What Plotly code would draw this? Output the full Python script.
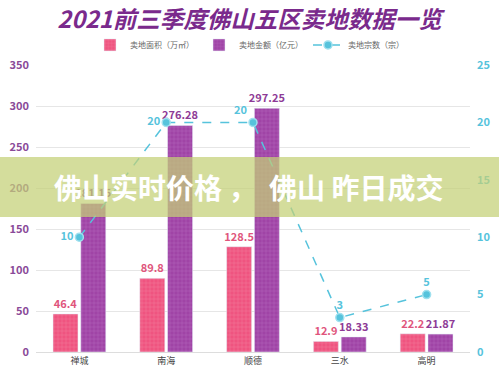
import plotly.graph_objects as go

categories = ["禅城", "南海", "顺德", "三水", "高明"]
area = [46.4, 89.8, 128.5, 12.9, 22.2]
amount = [181.15, 276.28, 297.25, 18.33, 21.87]
count = [10, 20, 20, 3, 5]
count_pos = ["middle left", "middle left", "top left", "top center", "top center"]
left_ticks = [0, 50, 100, 150, 200, 250, 300, 350]
right_ticks = [0, 5, 10, 15, 20, 25]

PINK = "#ef5480"
PURPLE = "#a044a6"
CYAN = "#56c3dc"
FONT = "Noto Sans CJK SC"

fig = go.Figure()
fig.add_trace(go.Bar(
    x=categories, y=area, name="卖地面积（万㎡）",
    marker=dict(color=PINK, pattern=dict(shape="+", size=4, solidity=0.15,
                                         fgcolor="#f7a0b8", fgopacity=0.7)),
    text=[f"{v}" for v in area], textposition="outside", cliponaxis=False,
    constraintext="none",
    textfont=dict(color="#e0557c", size=11, family=FONT, weight="bold"),
))
fig.add_trace(go.Bar(
    x=categories, y=amount, name="卖地金额（亿元）",
    marker=dict(color=PURPLE, pattern=dict(shape="+", size=4, solidity=0.15,
                                           fgcolor="#cc88cf", fgopacity=0.7)),
    text=[f"{v}" for v in amount], textposition="outside", cliponaxis=False,
    constraintext="none",
    textfont=dict(color="#8e3b96", size=11, family=FONT, weight="bold"),
))
fig.add_trace(go.Scatter(
    x=categories, y=count, name="卖地宗数（宗）", yaxis="y2",
    mode="lines+markers+text",
    line=dict(color=CYAN, width=1.5, dash="dash"),
    marker=dict(color=CYAN, size=8, line=dict(color="#9fe0ee", width=1.5)),
    text=[str(v) for v in count], textposition=count_pos, cliponaxis=False,
    textfont=dict(color=CYAN, size=11, family=FONT, weight="bold"),
))

fig.update_layout(
    width=499, height=374,
    margin=dict(l=36, r=29, t=65, b=22, autoexpand=False),
    paper_bgcolor="white", plot_bgcolor="white",
    font=dict(family=FONT),
    title=dict(text="2021前三季度佛山五区卖地数据一览", x=0.5, xanchor="center",
               y=0.947, yanchor="middle",
               font=dict(size=23.5, color="#7a2a8c", family=FONT, weight="bold", style="italic")),
    barmode="group", bargap=0.36, bargroupgap=0.1,
    legend=dict(orientation="h", x=0.5, xanchor="center", y=0.88, yanchor="middle",
                yref="container", xref="container",
                font=dict(size=8, color="#666666"), itemwidth=30,
                bgcolor="rgba(0,0,0,0)"),
    xaxis=dict(showgrid=False, showline=True, linecolor="#dddddd", automargin=False,
               tickfont=dict(size=9, color="#444444"), ticks=""),
    yaxis=dict(range=[0, 350], tickvals=left_ticks, gridcolor="#e6e6e6", automargin=False,
               zeroline=False, ticklabelstandoff=6,
               tickfont=dict(size=11, color="#8a4a98", weight="bold")),
    yaxis2=dict(range=[0, 25], tickvals=right_ticks, overlaying="y", side="right",
                showgrid=False, zeroline=False, automargin=False, ticklabelstandoff=6,
                tickfont=dict(size=11, color=CYAN, weight="bold")),
    showlegend=True,
)

# Translucent banner overlay
fig.add_shape(type="rect", xref="paper", yref="paper", x0=-0.1, x1=1.1,
              y0=(352 - 217) / 287, y1=(352 - 157) / 287,
              fillcolor="rgba(196,208,118,0.72)", line=dict(width=0), layer="above")
fig.add_annotation(text="佛山实时价格 ，  佛山 昨日成交", xref="paper", yref="paper",
                   x=(248 - 36) / 434, y=(352 - 187) / 287, showarrow=False,
                   font=dict(size=28, color="white", family=FONT, weight="bold"))

fig.write_html("out.html", config={"displayModeBar": False},
               post_script="document.body.style.margin='0px';document.body.style.padding='0px';")
